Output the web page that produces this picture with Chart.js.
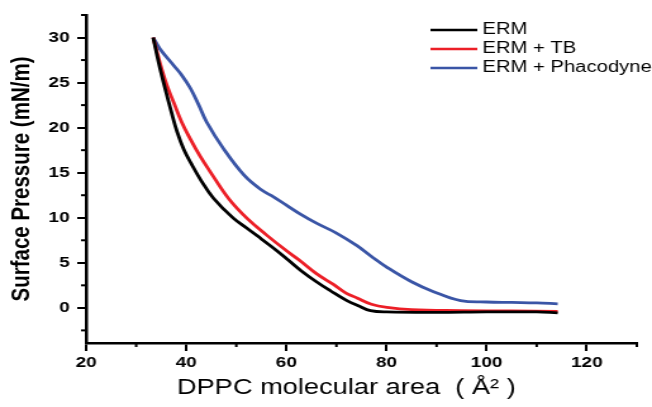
<!DOCTYPE html>
<html>
<head>
<meta charset="utf-8">
<script src="https://cdn.jsdelivr.net/npm/chart.js@4.4.1/dist/chart.umd.min.js"></script>
<style>
  html, body { margin: 0; padding: 0; background: #fff; overflow: hidden; }
  /* the source figure is stretched sideways, so the canvas is too */
  #wrap { width: 515px; height: 407px; transform: scaleX(1.266); transform-origin: 0 0; }
</style>
</head>
<body>
<div id="wrap"><canvas id="chart" width="515" height="407"></canvas></div>
<script>
'use strict';

const seriesLabels = ['ERM', 'ERM + TB', 'ERM + Phacodyne'];
const seriesColors = ['#000000', '#ec1f27', '#3a55a6'];

const ermArea = [33.4, 34.5, 35.7, 37, 38.2, 39.5, 41, 43, 45.4, 49.4, 52, 55, 58.1, 60.5, 63, 66, 68.8, 72.1, 74.5, 76.8, 80, 90, 100, 110, 114.2];
const ermPressure = [30, 27.2, 24.5, 21.8, 19.5, 17.6, 16, 14.1, 12.2, 9.95, 8.9, 7.65, 6.35, 5.25, 4.1, 2.9, 1.9, 0.8, 0.2, -0.3, -0.45, -0.5, -0.45, -0.45, -0.55];

const tbArea = [33.4, 34.9, 36.2, 37.5, 39.1, 40.8, 42.8, 44.8, 48.5, 52.1, 56, 60.1, 62.8, 66, 69.4, 72, 74.1, 77, 80.1, 85, 95, 105, 114.2];
const tbPressure = [30, 26.9, 24.6, 22.8, 20.6, 18.75, 16.8, 15.1, 12.1, 9.95, 8.1, 6.3, 5.2, 3.8, 2.6, 1.6, 1.1, 0.4, 0.05, -0.2, -0.3, -0.35, -0.4];

const phacoArea = [33.4, 34.8, 37.5, 39, 40.8, 42.5, 44.1, 47.4, 51.6, 55, 57.5, 60, 62.8, 66, 70, 74.1, 77, 80.1, 85, 89.4, 94.8, 100, 105, 110, 114.2];
const phacoPressure = [30, 28.7, 26.9, 25.9, 24.4, 22.5, 20.6, 17.7, 14.7, 13.1, 12.3, 11.4, 10.4, 9.4, 8.3, 6.9, 5.7, 4.5, 2.9, 1.8, 0.8, 0.65, 0.6, 0.55, 0.45];

const xTicks = [20, 40, 60, 80, 100, 120];
const xMinorTicks = [30, 50, 70, 90, 110, 130];
const yTicks = [0, 5, 10, 15, 20, 25, 30];
const yMinorTicks = [-2.5, 2.5, 7.5, 12.5, 17.5, 22.5, 27.5, 32.5];

const FONT = 'Liberation Sans, Arial, sans-serif';

const toPoints = (xs, ys) => xs.map((x, i) => ({ x, y: ys[i] }));

const minorTicks = {
  id: 'minorTicks',
  afterDraw(chart) {
    const { ctx, scales: { x, y } } = chart;
    ctx.save();
    ctx.strokeStyle = '#000';
    ctx.lineWidth = 2;
    xMinorTicks.forEach(v => {
      const px = x.getPixelForValue(v);
      ctx.beginPath();
      ctx.moveTo(px, x.top);
      ctx.lineTo(px, x.top + 4);
      ctx.stroke();
    });
    yMinorTicks.forEach(v => {
      const py = y.getPixelForValue(v);
      ctx.beginPath();
      ctx.moveTo(y.right, py);
      ctx.lineTo(y.right - 4, py);
      ctx.stroke();
    });
    ctx.restore();
  },
};

const insideLegend = {
  id: 'insideLegend',
  afterDraw(chart) {
    const { ctx } = chart;
    ctx.save();
    ctx.font = `16px ${FONT}`;
    ctx.textBaseline = 'middle';
    chart.data.datasets.forEach((ds, i) => {
      const top = 30 + i * 19;
      ctx.strokeStyle = ds.borderColor;
      ctx.lineWidth = 2.5;
      ctx.beginPath();
      ctx.moveTo(340, top);
      ctx.lineTo(377, top);
      ctx.stroke();
      ctx.fillStyle = '#000';
      ctx.fillText(ds.label, 381, top);
    });
    ctx.restore();
  },
};

const datasets = [
  toPoints(ermArea, ermPressure),
  toPoints(tbArea, tbPressure),
  toPoints(phacoArea, phacoPressure),
].map((data, i) => ({
  label: seriesLabels[i],
  data,
  borderColor: seriesColors[i],
  backgroundColor: seriesColors[i],
  borderWidth: 2.8,
  pointRadius: 0,
  tension: 0.4,
  fill: false,
}));

new Chart(document.getElementById('chart'), {
  type: 'line',
  data: { datasets },
  plugins: [minorTicks, insideLegend],
  options: {
    responsive: false,
    animation: false,
    layout: { padding: { top: 12, right: 12, left: 0, bottom: 0 } },
    plugins: {
      legend: { display: false },
      tooltip: { enabled: false },
    },
    scales: {
      x: {
        type: 'linear',
        min: 20,
        max: 130,
        afterBuildTicks: s => { s.ticks = xTicks.map(v => ({ value: v })); },
        afterFit: s => { s.height = 64; },
        border: { display: true, color: '#000', width: 2.5 },
        grid: { drawOnChartArea: false, drawTicks: true, tickLength: 8, tickColor: '#000', lineWidth: 2 },
        ticks: { color: '#000', padding: 3, maxRotation: 0, font: { family: FONT, size: 15, weight: 'bold' } },
        title: {
          display: true,
          // trailing spaces nudge the centred title left, as in the source
          text: 'DPPC molecular area  ( Å² )    ',
          color: '#000',
          font: { family: FONT, size: 21.5 },
          padding: { top: 0, bottom: 6 },
        },
      },
      y: {
        min: -3.9,
        max: 32.5,
        afterBuildTicks: s => { s.ticks = yTicks.map(v => ({ value: v })); },
        afterFit: s => { s.width = 68; },
        border: { display: true, color: '#000', width: 2.5 },
        grid: { drawOnChartArea: false, drawTicks: true, tickLength: 7, tickColor: '#000', lineWidth: 2 },
        ticks: { color: '#000', padding: 6, font: { family: FONT, size: 15, weight: 'bold' } },
        title: {
          display: true,
          text: 'Surface Pressure (mN/m)',
          color: '#000',
          font: { family: FONT, size: 20.5, weight: 'bold' },
          padding: { top: 5, bottom: 0 },
        },
      },
    },
  },
});
</script>
</body>
</html>
